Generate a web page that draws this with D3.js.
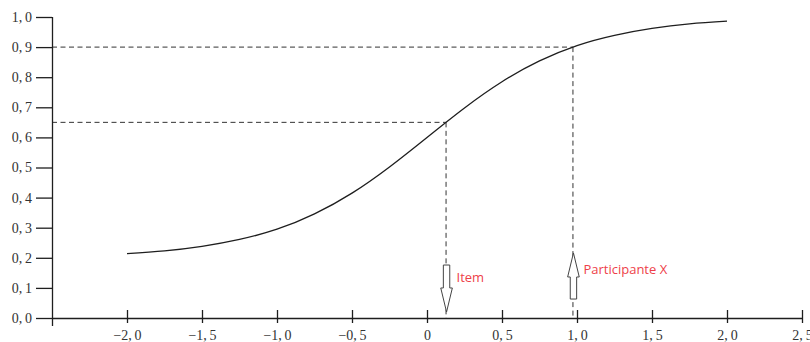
<!DOCTYPE html>
<html>
<head>
<meta charset="utf-8">
<script src="https://cdn.jsdelivr.net/npm/d3@7"></script>
<style>
  body { margin: 0; background: #fff; }
  svg { display: block; }
</style>
</head>
<body>
<svg id="chart" width="810" height="342"></svg>
<script>
// curve (ability theta -> probability of correct answer)
const theta = [-2, -1.75, -1.5, -1.25, -1, -0.75, -0.5, -0.25, 0, 0.25, 0.5, 0.75, 1, 1.25, 1.5, 1.75, 2];
const prob = [0.214, 0.223, 0.238, 0.261, 0.295, 0.346, 0.415, 0.502, 0.6, 0.698, 0.785, 0.854, 0.905, 0.939, 0.962, 0.977, 0.986];

const xTicks = [-2, -1.5, -1, -0.5, 0, 0.5, 1, 1.5, 2, 2.5];
const xTickLabels = ["\u22122,\u20090", "\u22121,\u20095", "\u22121,\u20090", "\u22120,\u20095", "0", "0,\u20095", "1,\u20090", "1,\u20095", "2,\u20090", "2,\u20095"];
const yTicks = [0, 0.1, 0.2, 0.3, 0.4, 0.5, 0.6, 0.7, 0.8, 0.9, 1];
const yTickLabels = ["0,\u20090", "0,\u20091", "0,\u20092", "0,\u20093", "0,\u20094", "0,\u20095", "0,\u20096", "0,\u20097", "0,\u20098", "0,\u20099", "1,\u20090"];

// guide points and arrows (arrow ends given in probability units)
const markerNames = ["Item", "Participante X"];
const markerTheta = [0.127, 0.973];
const markerProb = [0.65, 0.9];
const arrowFrom = [0.176, 0.063];
const arrowTo = [0.02, 0.216];

const svg = d3.select("#chart");
const x = d3.scaleLinear().domain([-2.5, 2.5]).range([52, 802]);
const y = d3.scaleLinear().domain([0, 1]).range([318, 17]);
const ink = "#1e1e1e";
const serif = "'Liberation Serif', 'DejaVu Serif', serif";

// dashed guides
markerTheta.forEach((t, i) => {
  const g = svg.append("g")
    .attr("stroke", "#333")
    .attr("stroke-width", 1)
    .attr("stroke-dasharray", "5,3.5")
    .attr("fill", "none");
  g.append("line")
    .attr("x1", x(-2.5)).attr("x2", x(t))
    .attr("y1", y(markerProb[i])).attr("y2", y(markerProb[i]));
  g.append("line")
    .attr("x1", x(t)).attr("x2", x(t))
    .attr("y1", y(markerProb[i])).attr("y2", y(0));
});

// x axis
const xAxis = svg.append("g")
  .attr("transform", `translate(0,${y(0)})`)
  .call(d3.axisBottom(x).tickValues(xTicks).tickSizeOuter(0).tickSize(5)
    .tickFormat((d, i) => xTickLabels[i]));
xAxis.select(".domain").attr("d", `M${x(-2.5)},0.5H${x(2.5)}`).attr("stroke", ink).attr("stroke-width", 1.3);
xAxis.selectAll(".tick line").attr("y1", -8).attr("stroke", ink).attr("stroke-width", 1.3);
xAxis.selectAll(".tick text")
  .attr("y", 22).attr("dy", 0)
  .attr("font-family", serif).attr("font-size", 14).attr("fill", "#333");

// y axis
const yAxis = svg.append("g")
  .attr("transform", `translate(${x(-2.5)},0)`)
  .call(d3.axisLeft(y).tickValues(yTicks).tickSizeOuter(0).tickSize(16).tickPadding(4)
    .tickFormat((d, i) => yTickLabels[i]));
yAxis.select(".domain").attr("d", `M0.5,${y(1)}V${y(0) + 8}`).attr("stroke", ink).attr("stroke-width", 1.3);
yAxis.selectAll(".tick line").attr("stroke", ink).attr("stroke-width", 1.3);
yAxis.selectAll(".tick text")
  .attr("font-family", serif).attr("font-size", 14).attr("fill", "#333");

// curve
const pts = theta.map((t, i) => [t, prob[i]]);
svg.append("path")
  .datum(pts)
  .attr("fill", "none")
  .attr("stroke", ink)
  .attr("stroke-width", 1.3)
  .attr("d", d3.line().x(d => x(d[0])).y(d => y(d[1])).curve(d3.curveNatural));

// hollow arrows with red labels
markerTheta.forEach((t, i) => {
  const cx = x(t) + 0.5;
  const y0 = y(arrowFrom[i]);
  const y1 = y(arrowTo[i]);
  const dir = y1 > y0 ? 1 : -1;
  const headLen = 24;
  const yb = y1 - dir * headLen;
  const sw = 3.2, hw = 5.8;
  const p = d3.path();
  p.moveTo(cx - sw, y0);
  p.lineTo(cx + sw, y0);
  p.lineTo(cx + sw, yb);
  p.lineTo(cx + hw, yb);
  p.lineTo(cx, y1);
  p.lineTo(cx - hw, yb);
  p.lineTo(cx - sw, yb);
  p.closePath();
  svg.append("path")
    .attr("d", p.toString())
    .attr("fill", "#fff")
    .attr("stroke", "#444")
    .attr("stroke-width", 1);
  svg.append("text")
    .attr("x", cx + 10)
    .attr("y", i === 0 ? y0 + 17 : y1 + 21)
    .attr("font-family", "'Open Sans', 'Liberation Sans', sans-serif")
    .attr("font-size", 13)
    .attr("fill", "#ee3f4a")
    .text(markerNames[i]);
});
</script>
</body>
</html>
